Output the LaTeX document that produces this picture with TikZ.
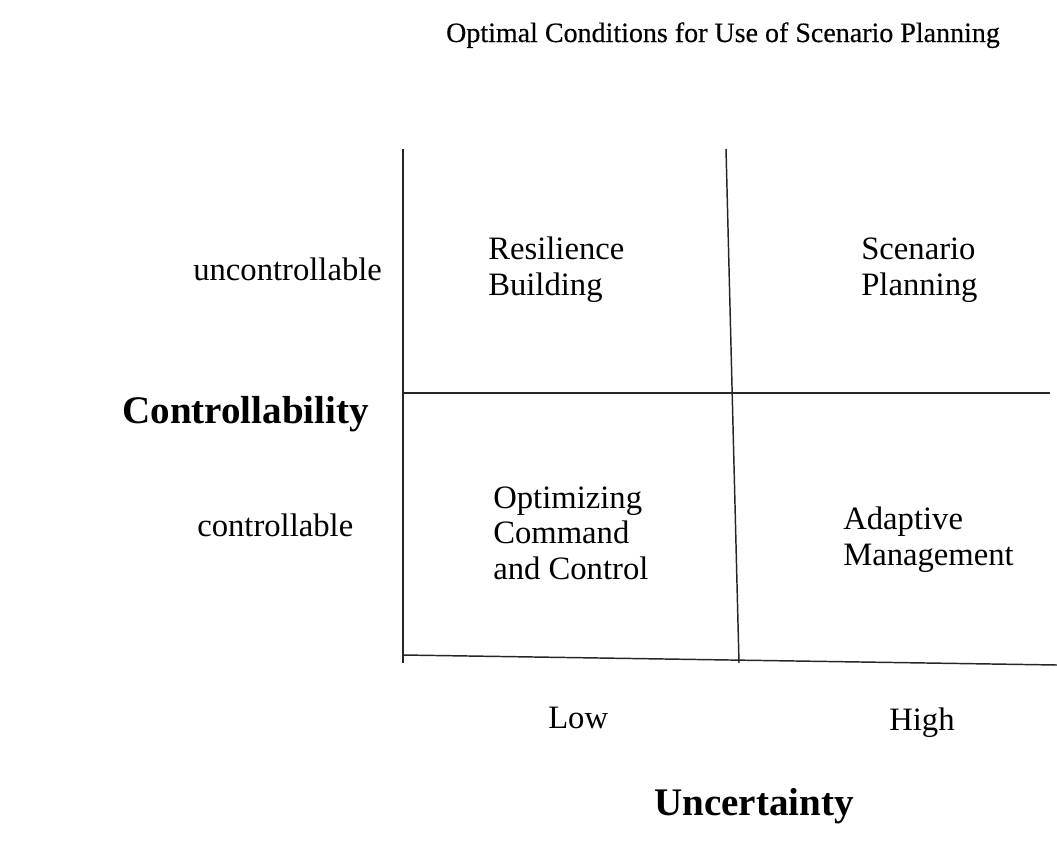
\documentclass[tikz,border=0pt]{standalone}
\usepackage{fontspec}
\setmainfont{Liberation Serif}
\newfontfamily\ttlfont[FakeBold=0.4]{Liberation Serif}
\begin{document}
\begin{tikzpicture}[x=0.75pt,y=-0.75pt,
  axisline/.style={line width=1.1pt,draw=black!85},
  lbl/.style={inner sep=0pt,anchor=base west,align=left,font=\fontsize{24.5}{26.6}\selectfont},
  biglbl/.style={inner sep=0pt,anchor=base west,font=\fontsize{29.3}{32}\selectfont\bfseries},
  ttl/.style={inner sep=0pt,anchor=base,font=\ttlfont\fontsize{21}{24}\selectfont}]
\useasboundingbox (0,0) rectangle (1057,846);
% grid coordinates
\coordinate (LT) at (403,149);
\coordinate (LB) at (403,663);
\coordinate (MT) at (726,149);
\coordinate (MB) at (739,663);
\coordinate (HL) at (403,393);
\coordinate (HR) at (1050,393);
\coordinate (BL) at (403,655);
\coordinate (BR) at (1057,665);
\draw[axisline] (LT) -- (LB);
\draw[axisline] (MT) -- (MB);
\draw[axisline] (HL) -- (HR);
\draw[axisline] (BL) -- (BR);
% texts (base = baseline of the last line)
\node[ttl] (title) at (723,42) {Optimal Conditions for Use of Scenario Planning};
\node[lbl] (unc) at (193,280) {uncontrollable};
\node[lbl] (con) at (197,536) {controllable};
\node[lbl] (rb) at (488,295) {Resilience\\Building};
\node[lbl] (sp) at (861,295) {Scenario\\Planning};
\node[lbl] (occ) at (493,579) {Optimizing\\Command\\and Control};
\node[lbl] (am) at (843,565) {Adaptive\\Management};
\node[lbl] (low) at (548,728) {Low};
\node[lbl] (high) at (889,730) {High};
\node[biglbl] (ctl) at (122,423) {Controllability};
\node[biglbl] (unct) at (654,815) {Uncertainty};
\end{tikzpicture}
\end{document}
